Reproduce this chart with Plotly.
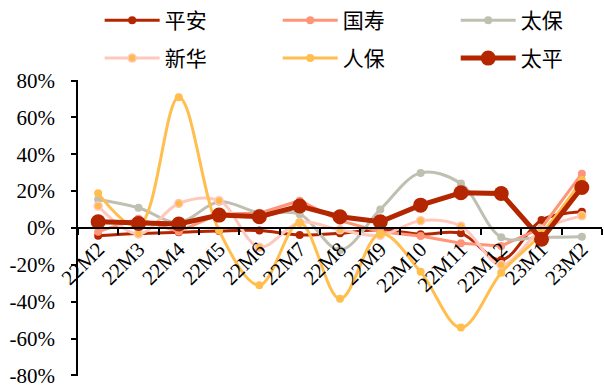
import plotly.graph_objects as go

categories = ["22M2", "22M3", "22M4", "22M5", "22M6", "22M7", "22M8",
              "22M9", "22M10", "22M11", "22M12", "23M1", "23M2"]

pingan   = [-4.2, -3.0, -2.3, -1.6, -1.4, -3.8, -2.9, -1.0, -3.4, -2.9, -17.3, 4.3, 8.8]
guoshou  = [-2.0, 5.0, -2.0, 7.6, 8.0, 14.8, 4.0, -2.0, -4.3, -8.3, -9.7, 0.0, 29.5]
taibao   = [15.5, 11.0, 3.0, 14.2, 8.3, 7.5, -11.9, 10.1, 29.9, 24.1, -5.0, -5.0, -4.7]
xinhua   = [11.9, -3.2, 13.3, 14.8, -10.4, 3.0, -1.0, -4.0, 4.0, 1.0, -20.0, -1.0, 6.6]
renbao   = [18.8, 1.0, 71.0, -1.4, -31.0, 2.9, -38.4, -3.0, -23.8, -54.0, -24.3, -3.0, 26.0]
taiping  = [3.4, 2.5, 2.2, 7.0, 6.1, 11.9, 6.1, 3.4, 12.4, 19.1, 18.7, -6.1, 22.0]

ytickvals = [-80, -60, -40, -20, 0, 20, 40, 60, 80]
yticktext = ["-80%", "-60%", "-40%", "-20%", "0%", "20%", "40%", "60%", "80%"]

series = [
    # name, values, line colour, marker fill, marker line, width, marker size, shape
    ("平安", pingan, "#B32600", "#B32600", "#B32600", 3, 8, "spline"),
    ("国寿", guoshou, "#FF9478", "#FF9478", "#FF9478", 3, 8, "linear"),
    ("太保", taibao, "#BFBFB2", "#BFBFB2", "#BFBFB2", 3, 8, "spline"),
    ("新华", xinhua, "#FFC8BC", "#FFBA4A", "#FFC8BC", 3, 8, "spline"),
    ("人保", renbao, "#FFBE4D", "#FFBE4D", "#FFBE4D", 3, 8, "spline"),
    ("太平", taiping, "#B32600", "#B32600", "#B32600", 5, 15, "linear"),
]

legend_ids = ["legend", "legend2", "legend3", "legend4", "legend5", "legend6"]
legend_x = [0.165, 0.4598, 0.7545]
legend_y = [1.0, 0.902]

fig = go.Figure()
for i, (name, vals, lc, mf, ml, w, ms, shape) in enumerate(series):
    fig.add_trace(go.Scatter(
        x=categories, y=vals, name=name, mode="lines+markers",
        line=dict(color=lc, width=w, shape=shape, smoothing=1),
        marker=dict(color=mf, size=ms, line=dict(color=ml, width=1.5 if name == "新华" else 0)),
        legend=legend_ids[i], cliponaxis=False,
    ))

serif = "Liberation Serif, Times New Roman, serif"
cjk = "Noto Sans CJK SC, sans-serif"

legends = {}
for i, lid in enumerate(legend_ids):
    legends[lid] = dict(orientation="h", xref="container", yref="container",
                        x=legend_x[i % 3], y=legend_y[i // 3],
                        xanchor="left", yanchor="top", itemwidth=55,
                        font=dict(family=cjk, size=21, color="black"),
                        bgcolor="rgba(0,0,0,0)")

fig.update_layout(
    width=604, height=387,
    margin=dict(l=78, r=2, t=80, b=11, autoexpand=False),
    paper_bgcolor="white", plot_bgcolor="white",
    showlegend=True,
    xaxis=dict(type="category", anchor="free", position=0.5,
               showline=True, linecolor="black", linewidth=1.5,
               ticks="outside", ticklen=6, tickwidth=1.5, tickcolor="black",
               tickson="boundaries", tickangle=-45,
               tickfont=dict(family=serif, size=21, color="black"),
               showgrid=False, zeroline=False,
               range=[-0.5, len(categories) - 0.5]),
    yaxis=dict(range=[-80.3, 80.3], tickvals=ytickvals, ticktext=yticktext,
               showline=True, linecolor="black", linewidth=1.5,
               ticks="outside", ticklen=5, tickwidth=1.5, tickcolor="black",
               ticklabelstandoff=12, ticklabeloverflow="allow",
               tickfont=dict(family=serif, size=21, color="black"),
               showgrid=False, zeroline=False),
    **legends,
)

fig.write_html("out.html")
